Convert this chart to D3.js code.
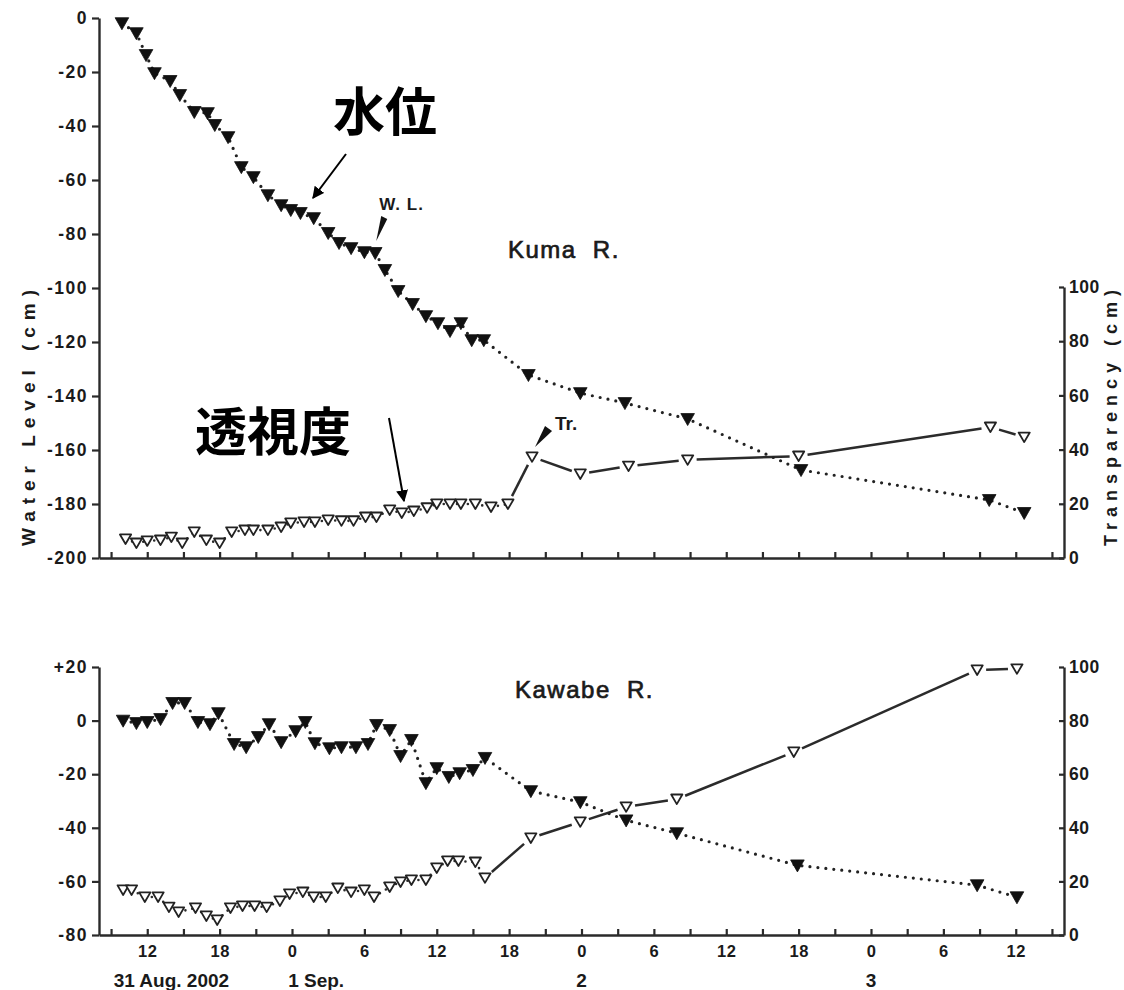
<!DOCTYPE html>
<html>
<head>
<meta charset="utf-8">
<script src="https://cdn.jsdelivr.net/npm/d3@7"></script>
<style>
  body { margin: 0; background: #fff; }
  text { font-family: "Liberation Sans", Arial, Helvetica, sans-serif; }
</style>
</head>
<body>
<svg id="chart" width="1124" height="990"></svg>
<script>
// Time is in hours counted from 00:00, 31 Aug 2002.

// ---- Kuma River ----
const kumaLevelHours = [9.9, 11.1, 11.9, 12.6, 13.9, 14.7, 15.9, 17.0, 17.6, 18.7,
  19.8, 20.8, 22.0, 23.1, 23.9, 24.7, 25.8, 27.0, 27.9, 28.9,
  30.0, 30.9, 31.7, 32.8, 34.0, 35.1, 36.1, 37.1, 38.0, 38.9,
  39.9, 43.6, 47.9, 51.6, 56.8, 66.2, 81.8, 84.7];
const kumaLevel = [-1.9, -5.6, -13.7, -20.4, -23.3, -28.5, -34.8, -35.2, -39.6, -44.1,
  -55.2, -58.9, -65.6, -69.3, -71.1, -72.2, -74.1, -79.6, -83.3, -85.2,
  -86.7, -87.0, -93.3, -101.1, -105.9, -110.4, -113.0, -115.9, -113.0, -119.3,
  -119.3, -132.2, -138.9, -142.6, -148.5, -167.4, -178.5, -183.3];
const kumaTrHours = [10.2, 11.1, 12.0, 13.1, 14.0, 14.9, 15.9, 16.9, 18.0, 19.0,
  20.1, 20.8, 22.0, 23.1, 23.9, 25.0, 25.9, 27.0, 28.1, 29.1,
  30.1, 31.0, 32.1, 33.1, 34.1, 35.2, 36.0, 37.1, 38.0, 39.2,
  40.5, 41.9, 43.9, 47.9, 51.9, 56.8, 66.0, 81.9, 84.7];
const kumaTr = [7.0, 5.5, 6.3, 6.6, 7.7, 5.5, 9.6, 6.6, 5.5, 9.6,
  10.3, 10.3, 10.3, 11.4, 12.9, 13.3, 13.3, 14.0, 13.7, 13.7,
  15.1, 15.1, 17.7, 16.6, 17.3, 18.5, 19.9, 19.9, 19.9, 19.9,
  18.8, 19.9, 37.3, 31.0, 33.9, 36.2, 37.6, 48.3, 44.6];

// ---- Kawabe River ----
const kawabeLevelHours = [10.0, 11.1, 12.0, 13.1, 14.1, 15.1, 16.2, 17.2, 17.9, 19.2,
  20.2, 21.2, 22.1, 23.1, 24.3, 25.1, 25.9, 27.1, 28.1, 29.3,
  30.3, 31.0, 32.1, 33.0, 33.9, 35.1, 36.0, 37.0, 37.9, 39.0,
  40.0, 43.8, 47.9, 51.7, 55.9, 65.9, 80.8, 84.1];
const kawabeLevel = [0, -0.9, -0.5, 0.6, 6.6, 6.6, -0.5, -1.3, 2.8, -8.7,
  -9.9, -6.1, -1.3, -8.0, -3.9, -0.5, -8.4, -10.3, -9.9, -9.9,
  -8.7, -1.6, -3.5, -13.2, -7.2, -23.3, -17.7, -21.0, -19.6, -18.4,
  -13.9, -26.3, -30.4, -37.2, -42.0, -54.0, -61.4, -65.9];
const kawabeTrHours = [10.0, 10.7, 11.8, 12.9, 13.8, 14.6, 16.0, 16.9, 17.8, 18.9,
  19.9, 20.9, 21.9, 23.0, 23.8, 24.9, 25.8, 26.8, 27.8, 28.9,
  30.0, 30.8, 32.1, 33.0, 33.9, 35.1, 36.0, 36.9, 37.8, 39.2,
  40.0, 43.8, 47.9, 51.7, 55.9, 65.6, 80.8, 84.1];
const kawabeTr = [16.8, 16.8, 14.2, 14.2, 10.4, 8.6, 10.1, 7.1, 5.6, 10.1,
  10.8, 10.8, 10.4, 12.7, 15.3, 16.0, 14.2, 14.2, 17.5, 16.0,
  16.8, 14.2, 17.9, 19.8, 20.5, 20.5, 25.0, 27.6, 27.6, 27.2,
  21.3, 36.2, 42.2, 47.8, 50.7, 68.3, 98.9, 99.3];

// ---- axes ----
const timeTicks = d3.range(9, 88, 3);
const kumaLevelTicks = [-200, -180, -160, -140, -120, -100, -80, -60, -40, -20, 0];
const kawabeLevelTicks = [-80, -60, -40, -20, 0, 20];
const trTicks = [0, 20, 40, 60, 80, 100];
const dayLabels = [
  { hour: 14.0, text: "31 Aug. 2002" },
  { hour: 26.0, text: "1 Sep." },
  { hour: 48, text: "2" },
  { hour: 72, text: "3" }
];

const ink = "#1a1a1a";
const svg = d3.select("#chart");
const x = d3.scaleLinear().domain([8, 88]).range([99, 1064]);

const panels = [
  {
    name: "Kuma R.", nameX: 508, nameY: 258,
    wlH: kumaLevelHours, wl: kumaLevel, trH: kumaTrHours, tr: kumaTr,
    yWL: d3.scaleLinear().domain([-200, 0]).range([558, 18]),
    yTr: d3.scaleLinear().domain([0, 100]).range([558, 287]),
    wlTicks: kumaLevelTicks, wlFmt: d => String(d), showTime: false
  },
  {
    name: "Kawabe R.", nameX: 515, nameY: 698,
    wlH: kawabeLevelHours, wl: kawabeLevel, trH: kawabeTrHours, tr: kawabeTr,
    yWL: d3.scaleLinear().domain([-80, 20]).range([935, 667]),
    yTr: d3.scaleLinear().domain([0, 100]).range([935, 667]),
    wlTicks: kawabeLevelTicks, wlFmt: d => (d > 0 ? "+" + d : String(d)), showTime: true
  }
];

function styleAxis(g, size, spacing) {
  g.select(".domain").attr("stroke", "#2a2a2a").attr("stroke-width", 2.4);
  g.selectAll(".tick line").attr("stroke", "#2a2a2a").attr("stroke-width", 2.2);
  g.selectAll(".tick text")
    .attr("fill", ink)
    .style("font-size", size + "px")
    .style("font-weight", "bold")
    .style("letter-spacing", spacing + "px");
}

const filledTri = "M-6.8,-5.4L6.8,-5.4L0,6.6Z";
const openTri = "M-5.6,-4.6L5.6,-4.6L0,5Z";

panels.forEach(p => {
  const g = svg.append("g");
  const baseY = p.yWL.range()[0];

  // left axis: water level
  const left = g.append("g").attr("transform", `translate(${x(8)},0)`)
    .call(d3.axisLeft(p.yWL).tickValues(p.wlTicks).tickFormat(p.wlFmt)
      .tickSizeInner(7).tickSizeOuter(0).tickPadding(4));
  styleAxis(left, 17.5, 1.5);

  // right axis: transparency
  const right = g.append("g").attr("transform", `translate(${x(88)},0)`)
    .call(d3.axisRight(p.yTr).tickValues(trTicks)
      .tickSizeInner(-5).tickSizeOuter(0).tickPadding(5));
  styleAxis(right, 17.5, 0.5);

  // time axis
  const bottom = g.append("g").attr("transform", `translate(0,${baseY})`)
    .call(d3.axisBottom(x).tickValues(timeTicks)
      .tickFormat(h => (p.showTime && h % 6 === 0) ? String(h % 24) : "")
      .tickSizeInner(-6).tickSizeOuter(0).tickPadding(10));
  styleAxis(bottom, 16.5, 0.5);

  if (p.showTime) {
    g.selectAll(".day").data(dayLabels).join("text")
      .attr("x", d => x(d.hour)).attr("y", 987)
      .attr("text-anchor", "middle")
      .attr("fill", ink)
      .style("font-size", "19px").style("font-weight", "bold")
      .text(d => d.text);
  }

  // river name
  g.append("text").attr("x", p.nameX).attr("y", p.nameY)
    .attr("fill", ink).attr("stroke", ink).attr("stroke-width", 0.7)
    .style("font-size", "24px")
    .style("letter-spacing", "1.5px").style("word-spacing", "8px")
    .text(p.name);

  // transparency line: solid between sparse readings, dotted between hourly ones
  const trPts = p.trH.map((h, i) => [x(h), p.yTr(p.tr[i])]);
  for (let i = 0; i < trPts.length - 1; i++) {
    const a = trPts[i], b = trPts[i + 1];
    const dt = p.trH[i + 1] - p.trH[i];
    if (dt >= 1.8) {
      const dx = b[0] - a[0], dy = b[1] - a[1];
      const len = Math.hypot(dx, dy), gap = 9;
      if (len > 2 * gap + 2) {
        g.append("line")
          .attr("x1", a[0] + dx / len * gap).attr("y1", a[1] + dy / len * gap)
          .attr("x2", b[0] - dx / len * gap).attr("y2", b[1] - dy / len * gap)
          .attr("stroke", "#2b2b2b").attr("stroke-width", 2.5);
      }
    } else {
      g.append("line")
        .attr("x1", a[0]).attr("y1", a[1]).attr("x2", b[0]).attr("y2", b[1])
        .attr("stroke", "#2b2b2b").attr("stroke-width", 2.6)
        .attr("stroke-linecap", "round").attr("stroke-dasharray", "0 7");
    }
  }

  // water level line (dotted)
  const wlLine = d3.line().x(d => x(d[0])).y(d => p.yWL(d[1]));
  g.append("path")
    .datum(p.wlH.map((h, i) => [h, p.wl[i]]))
    .attr("d", wlLine)
    .attr("fill", "none").attr("stroke", "#222")
    .attr("stroke-width", 3.2).attr("stroke-linecap", "round")
    .attr("stroke-dasharray", "0 8");

  // water level markers
  g.selectAll(".wl").data(p.wlH.map((h, i) => [h, p.wl[i]])).join("path")
    .attr("d", filledTri)
    .attr("transform", d => `translate(${x(d[0])},${p.yWL(d[1])})`)
    .attr("fill", "#111").attr("stroke", "#111").attr("stroke-width", 0.8)
    .attr("stroke-linejoin", "round");

  // transparency markers
  g.selectAll(".tr").data(p.trH.map((h, i) => [h, p.tr[i]])).join("path")
    .attr("d", openTri)
    .attr("transform", d => `translate(${x(d[0])},${p.yTr(d[1])})`)
    .attr("fill", "#fff").attr("stroke", "#222").attr("stroke-width", 1.8)
    .attr("stroke-linejoin", "round");
});

// axis titles
svg.append("text")
  .attr("transform", "translate(35,418) rotate(-90)")
  .attr("text-anchor", "middle").attr("fill", ink)
  .attr("textLength", 256).attr("lengthAdjust", "spacing")
  .style("font-size", "19px").style("font-weight", "bold")
  .text("Water Level (cm)");
svg.append("text")
  .attr("transform", "translate(1117,418) rotate(-90)")
  .attr("text-anchor", "middle").attr("fill", ink)
  .attr("textLength", 256).attr("lengthAdjust", "spacing")
  .style("font-size", "18px").style("font-weight", "bold")
  .text("Transparency (cm)");

// small pointers labelling the two series in the upper panel
const kuma = panels[0];
const wlAnchor = [x(30.9), kuma.yWL(-87.0)];
svg.append("text")
  .attr("x", wlAnchor[0] + 4).attr("y", wlAnchor[1] - 43)
  .attr("fill", ink).style("font-size", "17px").style("font-weight", "bold")
  .style("letter-spacing", "1px").text("W. L.");
svg.append("path")
  .attr("d", `M${wlAnchor[0] + 6},${wlAnchor[1] - 37} L${wlAnchor[0] + 12},${wlAnchor[1] - 34} L${wlAnchor[0] + 1},${wlAnchor[1] - 12} Z`)
  .attr("fill", "#111");

const trAnchor = [x(43.9), kuma.yTr(37.3)];
svg.append("text")
  .attr("x", trAnchor[0] + 23).attr("y", trAnchor[1] - 27)
  .attr("fill", ink).style("font-size", "19px").style("font-weight", "bold")
  .text("Tr.");
svg.append("path")
  .attr("d", `M${trAnchor[0] + 13},${trAnchor[1] - 31} L${trAnchor[0] + 20},${trAnchor[1] - 26} L${trAnchor[0] + 3},${trAnchor[1] - 10} Z`)
  .attr("fill", "#111");

// Japanese captions with arrows
const defs = svg.append("defs");
defs.append("marker")
  .attr("id", "arrowhead").attr("viewBox", "0 0 10 10")
  .attr("refX", 9).attr("refY", 5)
  .attr("markerWidth", 6).attr("markerHeight", 6)
  .attr("markerUnits", "strokeWidth")
  .attr("orient", "auto")
  .append("path").attr("d", "M0,0 L10,5 L0,10 Z").attr("fill", "#000");

svg.append("text")
  .attr("x", 333).attr("y", 131)
  .attr("fill", "#000")
  .style("font-family", "'Noto Sans CJK JP', 'Noto Sans CJK SC', sans-serif")
  .style("font-size", "52px").style("font-weight", "bold")
  .text("水位");
svg.append("line")
  .attr("x1", 346).attr("y1", 154).attr("x2", 313).attr("y2", 198)
  .attr("stroke", "#000").attr("stroke-width", 2)
  .attr("marker-end", "url(#arrowhead)");

svg.append("text")
  .attr("x", 195).attr("y", 451)
  .attr("fill", "#000")
  .style("font-family", "'Noto Sans CJK JP', 'Noto Sans CJK SC', sans-serif")
  .style("font-size", "52px").style("font-weight", "bold")
  .text("透視度");
svg.append("line")
  .attr("x1", 389).attr("y1", 418).attr("x2", 404).attr("y2", 501)
  .attr("stroke", "#000").attr("stroke-width", 2)
  .attr("marker-end", "url(#arrowhead)");
</script>
</body>
</html>
